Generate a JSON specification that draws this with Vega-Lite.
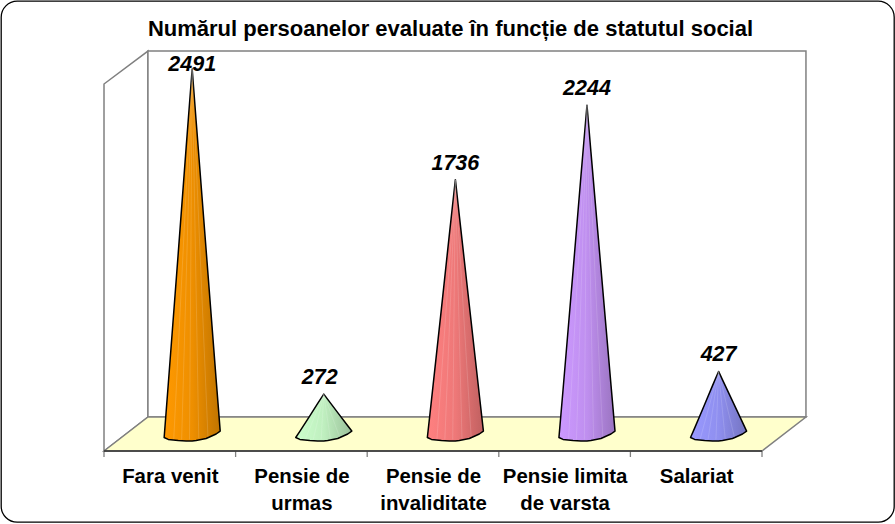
{"$schema":"https://vega.github.io/schema/vega-lite/v6.json","width":893,"height":521,"padding":{"left":1,"top":1,"right":1,"bottom":2},"autosize":"none","background":"white",
"title":{"text":"Numărul persoanelor evaluate în funcție de statutul social","font":"Liberation Sans","fontSize":22,"fontWeight":"bold","color":"#000000","anchor":"middle","offset":-40,"dx":3},
"view":{"stroke":"#000000","strokeWidth":1.3,"cornerRadius":16,"fill":"white"},
"datasets":{
"walls":[{"wall":"left","pos":-0.5,"y":2389,"y2":-116},{"wall":"left","pos":-0.166,"y":2614,"y2":116},{"wall":"back","pos":-0.166,"y":2614,"y2":116},{"wall":"back","pos":4.834,"y":2614,"y2":116},{"wall":"floor","pos":-0.5,"y":-116,"y2":-116},{"wall":"floor","pos":-0.166,"y":116,"y2":-116},{"wall":"floor","pos":4.5,"y":116,"y2":-116},{"wall":"floor","pos":4.834,"y":116,"y2":116}],
"ticks":[{"pos":-0.5,"from":-116,"to":-157},{"pos":0.5,"from":-116,"to":-157},{"pos":1.5,"from":-116,"to":-157},{"pos":2.5,"from":-116,"to":-157},{"pos":3.5,"from":-116,"to":-157},{"pos":4.5,"from":-116,"to":-157}],
"labels":[{"category":"Fara venit","pos":0.17,"value":2491},{"category":"Pensie de urmas","pos":1.17,"value":272},{"category":"Pensie de invaliditate","pos":2.17,"value":1736},{"category":"Pensie limita de varsta","pos":3.17,"value":2244},{"category":"Salariat","pos":4.17,"value":427}],
"cones":[
{"c":"a","pos":-0.043,"top":-24,"bottom":-24},{"c":"a","pos":-0.012,"top":336,"bottom":-37},{"c":"a","pos":0.064,"top":1233,"bottom":-44},{"c":"a","pos":0.124,"top":1953,"bottom":-48},{"c":"a","pos":0.17,"top":2491,"bottom":-48},{"c":"a","pos":0.2,"top":2138,"bottom":-44},{"c":"a","pos":0.276,"top":1256,"bottom":-31},{"c":"a","pos":0.352,"top":373,"bottom":0},{"c":"a","pos":0.383,"top":20,"bottom":20},
{"c":"b","pos":0.957,"top":-24,"bottom":-24},{"c":"b","pos":0.988,"top":18,"bottom":-37},{"c":"b","pos":1.064,"top":124,"bottom":-44},{"c":"b","pos":1.124,"top":209,"bottom":-48},{"c":"b","pos":1.17,"top":272,"bottom":-48},{"c":"b","pos":1.2,"top":236,"bottom":-44},{"c":"b","pos":1.276,"top":146,"bottom":-31},{"c":"b","pos":1.352,"top":56,"bottom":0},{"c":"b","pos":1.383,"top":20,"bottom":20},
{"c":"c","pos":1.957,"top":-24,"bottom":-24},{"c":"c","pos":1.988,"top":228,"bottom":-37},{"c":"c","pos":2.064,"top":856,"bottom":-44},{"c":"c","pos":2.124,"top":1359,"bottom":-48},{"c":"c","pos":2.17,"top":1736,"bottom":-48},{"c":"c","pos":2.2,"top":1491,"bottom":-44},{"c":"c","pos":2.276,"top":878,"bottom":-31},{"c":"c","pos":2.352,"top":266,"bottom":0},{"c":"c","pos":2.383,"top":20,"bottom":20},
{"c":"d","pos":2.957,"top":-24,"bottom":-24},{"c":"d","pos":2.988,"top":300,"bottom":-37},{"c":"d","pos":3.064,"top":1110,"bottom":-44},{"c":"d","pos":3.124,"top":1759,"bottom":-48},{"c":"d","pos":3.17,"top":2244,"bottom":-48},{"c":"d","pos":3.2,"top":1926,"bottom":-44},{"c":"d","pos":3.276,"top":1132,"bottom":-31},{"c":"d","pos":3.352,"top":339,"bottom":0},{"c":"d","pos":3.383,"top":20,"bottom":20},
{"c":"e","pos":3.957,"top":-24,"bottom":-24},{"c":"e","pos":3.988,"top":40,"bottom":-37},{"c":"e","pos":4.064,"top":201,"bottom":-44},{"c":"e","pos":4.124,"top":330,"bottom":-48},{"c":"e","pos":4.17,"top":427,"bottom":-48},{"c":"e","pos":4.2,"top":369,"bottom":-44},{"c":"e","pos":4.276,"top":224,"bottom":-31},{"c":"e","pos":4.352,"top":79,"bottom":0},{"c":"e","pos":4.383,"top":20,"bottom":20}
],
"stripes":[
{"tipPos":0.17,"tip":2491,"basePos":0.03,"base":-35},{"tipPos":0.17,"tip":2491,"basePos":0.09,"base":-38},{"tipPos":0.17,"tip":2491,"basePos":0.15,"base":-38},{"tipPos":0.17,"tip":2491,"basePos":0.22,"base":-30},{"tipPos":0.17,"tip":2491,"basePos":0.29,"base":-20},
{"tipPos":1.17,"tip":272,"basePos":1.03,"base":-35},{"tipPos":1.17,"tip":272,"basePos":1.09,"base":-38},{"tipPos":1.17,"tip":272,"basePos":1.15,"base":-38},{"tipPos":1.17,"tip":272,"basePos":1.22,"base":-30},{"tipPos":1.17,"tip":272,"basePos":1.29,"base":-20},
{"tipPos":2.17,"tip":1736,"basePos":2.03,"base":-35},{"tipPos":2.17,"tip":1736,"basePos":2.09,"base":-38},{"tipPos":2.17,"tip":1736,"basePos":2.15,"base":-38},{"tipPos":2.17,"tip":1736,"basePos":2.22,"base":-30},{"tipPos":2.17,"tip":1736,"basePos":2.29,"base":-20},
{"tipPos":3.17,"tip":2244,"basePos":3.03,"base":-35},{"tipPos":3.17,"tip":2244,"basePos":3.09,"base":-38},{"tipPos":3.17,"tip":2244,"basePos":3.15,"base":-38},{"tipPos":3.17,"tip":2244,"basePos":3.22,"base":-30},{"tipPos":3.17,"tip":2244,"basePos":3.29,"base":-20},
{"tipPos":4.17,"tip":427,"basePos":4.03,"base":-35},{"tipPos":4.17,"tip":427,"basePos":4.09,"base":-38},{"tipPos":4.17,"tip":427,"basePos":4.15,"base":-38},{"tipPos":4.17,"tip":427,"basePos":4.22,"base":-30},{"tipPos":4.17,"tip":427,"basePos":4.29,"base":-20}
]},
"encoding":{"x":{"field":"pos","type":"quantitative","scale":{"domain":[-1.2827,5.503],"nice":false,"zero":false},"title":null,"axis":{"values":[0,1,2,3,4],"grid":false,"domain":false,"ticks":false,"offset":-71,"labelExpr":"datum.value==0?'Fara venit':datum.value==1?['Pensie de','urmas']:datum.value==2?['Pensie de','invaliditate']:datum.value==3?['Pensie limita','de varsta']:'Salariat'","labelFont":"Liberation Sans","labelFontSize":20.4,"labelFontWeight":"bold","labelColor":"#000000","labelLineHeight":27,"labelPadding":15,"labelAngle":0,"labelAlign":"center","labelBaseline":"top","labelOverlap":false,"labelBound":false,"labelFlush":false,"zindex":1}}},
"layer":[
{"data":{"name":"walls"},"transform":[{"filter":"datum.wall=='left'"}],"mark":{"type":"area","orient":"vertical","fill":"white","stroke":"#808080","strokeWidth":1.5},"encoding":{"y":{"field":"y","type":"quantitative","scale":{"domain":[-600.7,2955.6],"nice":false,"zero":false},"axis":null},"y2":{"field":"y2"}}},
{"data":{"name":"walls"},"transform":[{"filter":"datum.wall=='back'"}],"mark":{"type":"area","orient":"vertical","fill":"white","stroke":"#808080","strokeWidth":1.5},"encoding":{"y":{"field":"y","type":"quantitative"},"y2":{"field":"y2"}}},
{"data":{"name":"walls"},"transform":[{"filter":"datum.wall=='floor'"}],"mark":{"type":"area","orient":"vertical","fill":"#FFFFCC","stroke":"#808080","strokeWidth":1.5},"encoding":{"y":{"field":"y","type":"quantitative"},"y2":{"field":"y2"}}},
{"data":{"name":"ticks"},"mark":{"type":"rule","color":"#808080","strokeWidth":1.3},"encoding":{"y":{"field":"from","type":"quantitative"},"y2":{"field":"to"}}},
{"data":{"values":[{"pos":-0.5,"to":4.5,"level":-116}]},"mark":{"type":"rule","color":"#303030","strokeWidth":1.3},"encoding":{"x2":{"field":"to"},"y":{"field":"level","type":"quantitative"}}},
{"data":{"name":"cones"},"transform":[{"filter":"datum.c=='a'"}],"mark":{"type":"area","orient":"vertical","stroke":"#000000","strokeWidth":1.5,"strokeJoin":"round","fill":{"x1":0,"y1":0,"x2":1,"y2":0,"gradient":"linear","stops":[{"offset":0,"color":"#FF9900"},{"offset":0.5,"color":"#EE8F00"},{"offset":1,"color":"#C07400"}]}},"encoding":{"y":{"field":"top","type":"quantitative"},"y2":{"field":"bottom"}}},
{"data":{"name":"cones"},"transform":[{"filter":"datum.c=='b'"}],"mark":{"type":"area","orient":"vertical","stroke":"#000000","strokeWidth":1.5,"strokeJoin":"round","fill":{"x1":0,"y1":0,"x2":1,"y2":0,"gradient":"linear","stops":[{"offset":0,"color":"#CCFFCC"},{"offset":0.5,"color":"#BFEFBF"},{"offset":1,"color":"#9AC09A"}]}},"encoding":{"y":{"field":"top","type":"quantitative"},"y2":{"field":"bottom"}}},
{"data":{"name":"cones"},"transform":[{"filter":"datum.c=='c'"}],"mark":{"type":"area","orient":"vertical","stroke":"#000000","strokeWidth":1.5,"strokeJoin":"round","fill":{"x1":0,"y1":0,"x2":1,"y2":0,"gradient":"linear","stops":[{"offset":0,"color":"#FF8080"},{"offset":0.5,"color":"#EE7878"},{"offset":1,"color":"#C06060"}]}},"encoding":{"y":{"field":"top","type":"quantitative"},"y2":{"field":"bottom"}}},
{"data":{"name":"cones"},"transform":[{"filter":"datum.c=='d'"}],"mark":{"type":"area","orient":"vertical","stroke":"#000000","strokeWidth":1.5,"strokeJoin":"round","fill":{"x1":0,"y1":0,"x2":1,"y2":0,"gradient":"linear","stops":[{"offset":0,"color":"#CC99FF"},{"offset":0.5,"color":"#BF8FEF"},{"offset":1,"color":"#9A74C0"}]}},"encoding":{"y":{"field":"top","type":"quantitative"},"y2":{"field":"bottom"}}},
{"data":{"name":"cones"},"transform":[{"filter":"datum.c=='e'"}],"mark":{"type":"area","orient":"vertical","stroke":"#000000","strokeWidth":1.5,"strokeJoin":"round","fill":{"x1":0,"y1":0,"x2":1,"y2":0,"gradient":"linear","stops":[{"offset":0,"color":"#9999FF"},{"offset":0.5,"color":"#8F8FEF"},{"offset":1,"color":"#7474C0"}]}},"encoding":{"y":{"field":"top","type":"quantitative"},"y2":{"field":"bottom"}}},
{"data":{"name":"stripes"},"mark":{"type":"rule","color":"#FFFFFF","opacity":0.14,"strokeWidth":1},"encoding":{"x":{"field":"tipPos","type":"quantitative"},"x2":{"field":"basePos"},"y":{"field":"tip","type":"quantitative"},"y2":{"field":"base"}}},
{"data":{"name":"labels"},"transform":[{"filter":"datum.value!=2491&&datum.value!=272"}],"mark":{"type":"text","font":"Liberation Sans","fontSize":21.5,"fontWeight":"bold","fontStyle":"italic","color":"#000000","dy":-16},"encoding":{"y":{"field":"value","type":"quantitative"},"text":{"field":"value","type":"quantitative","format":"d"}}},
{"data":{"name":"labels"},"transform":[{"filter":"datum.value==272"}],"mark":{"type":"text","font":"Liberation Sans","fontSize":21.5,"fontWeight":"bold","fontStyle":"italic","color":"#000000","dy":-16,"dx":-4},"encoding":{"y":{"field":"value","type":"quantitative"},"text":{"field":"value","type":"quantitative","format":"d"}}},
{"data":{"name":"labels"},"transform":[{"filter":"datum.value==2491"}],"mark":{"type":"text","font":"Liberation Sans","fontSize":21.5,"fontWeight":"bold","fontStyle":"italic","color":"#000000","dy":-4},"encoding":{"y":{"field":"value","type":"quantitative"},"text":{"field":"value","type":"quantitative","format":"d"}}}
]}
